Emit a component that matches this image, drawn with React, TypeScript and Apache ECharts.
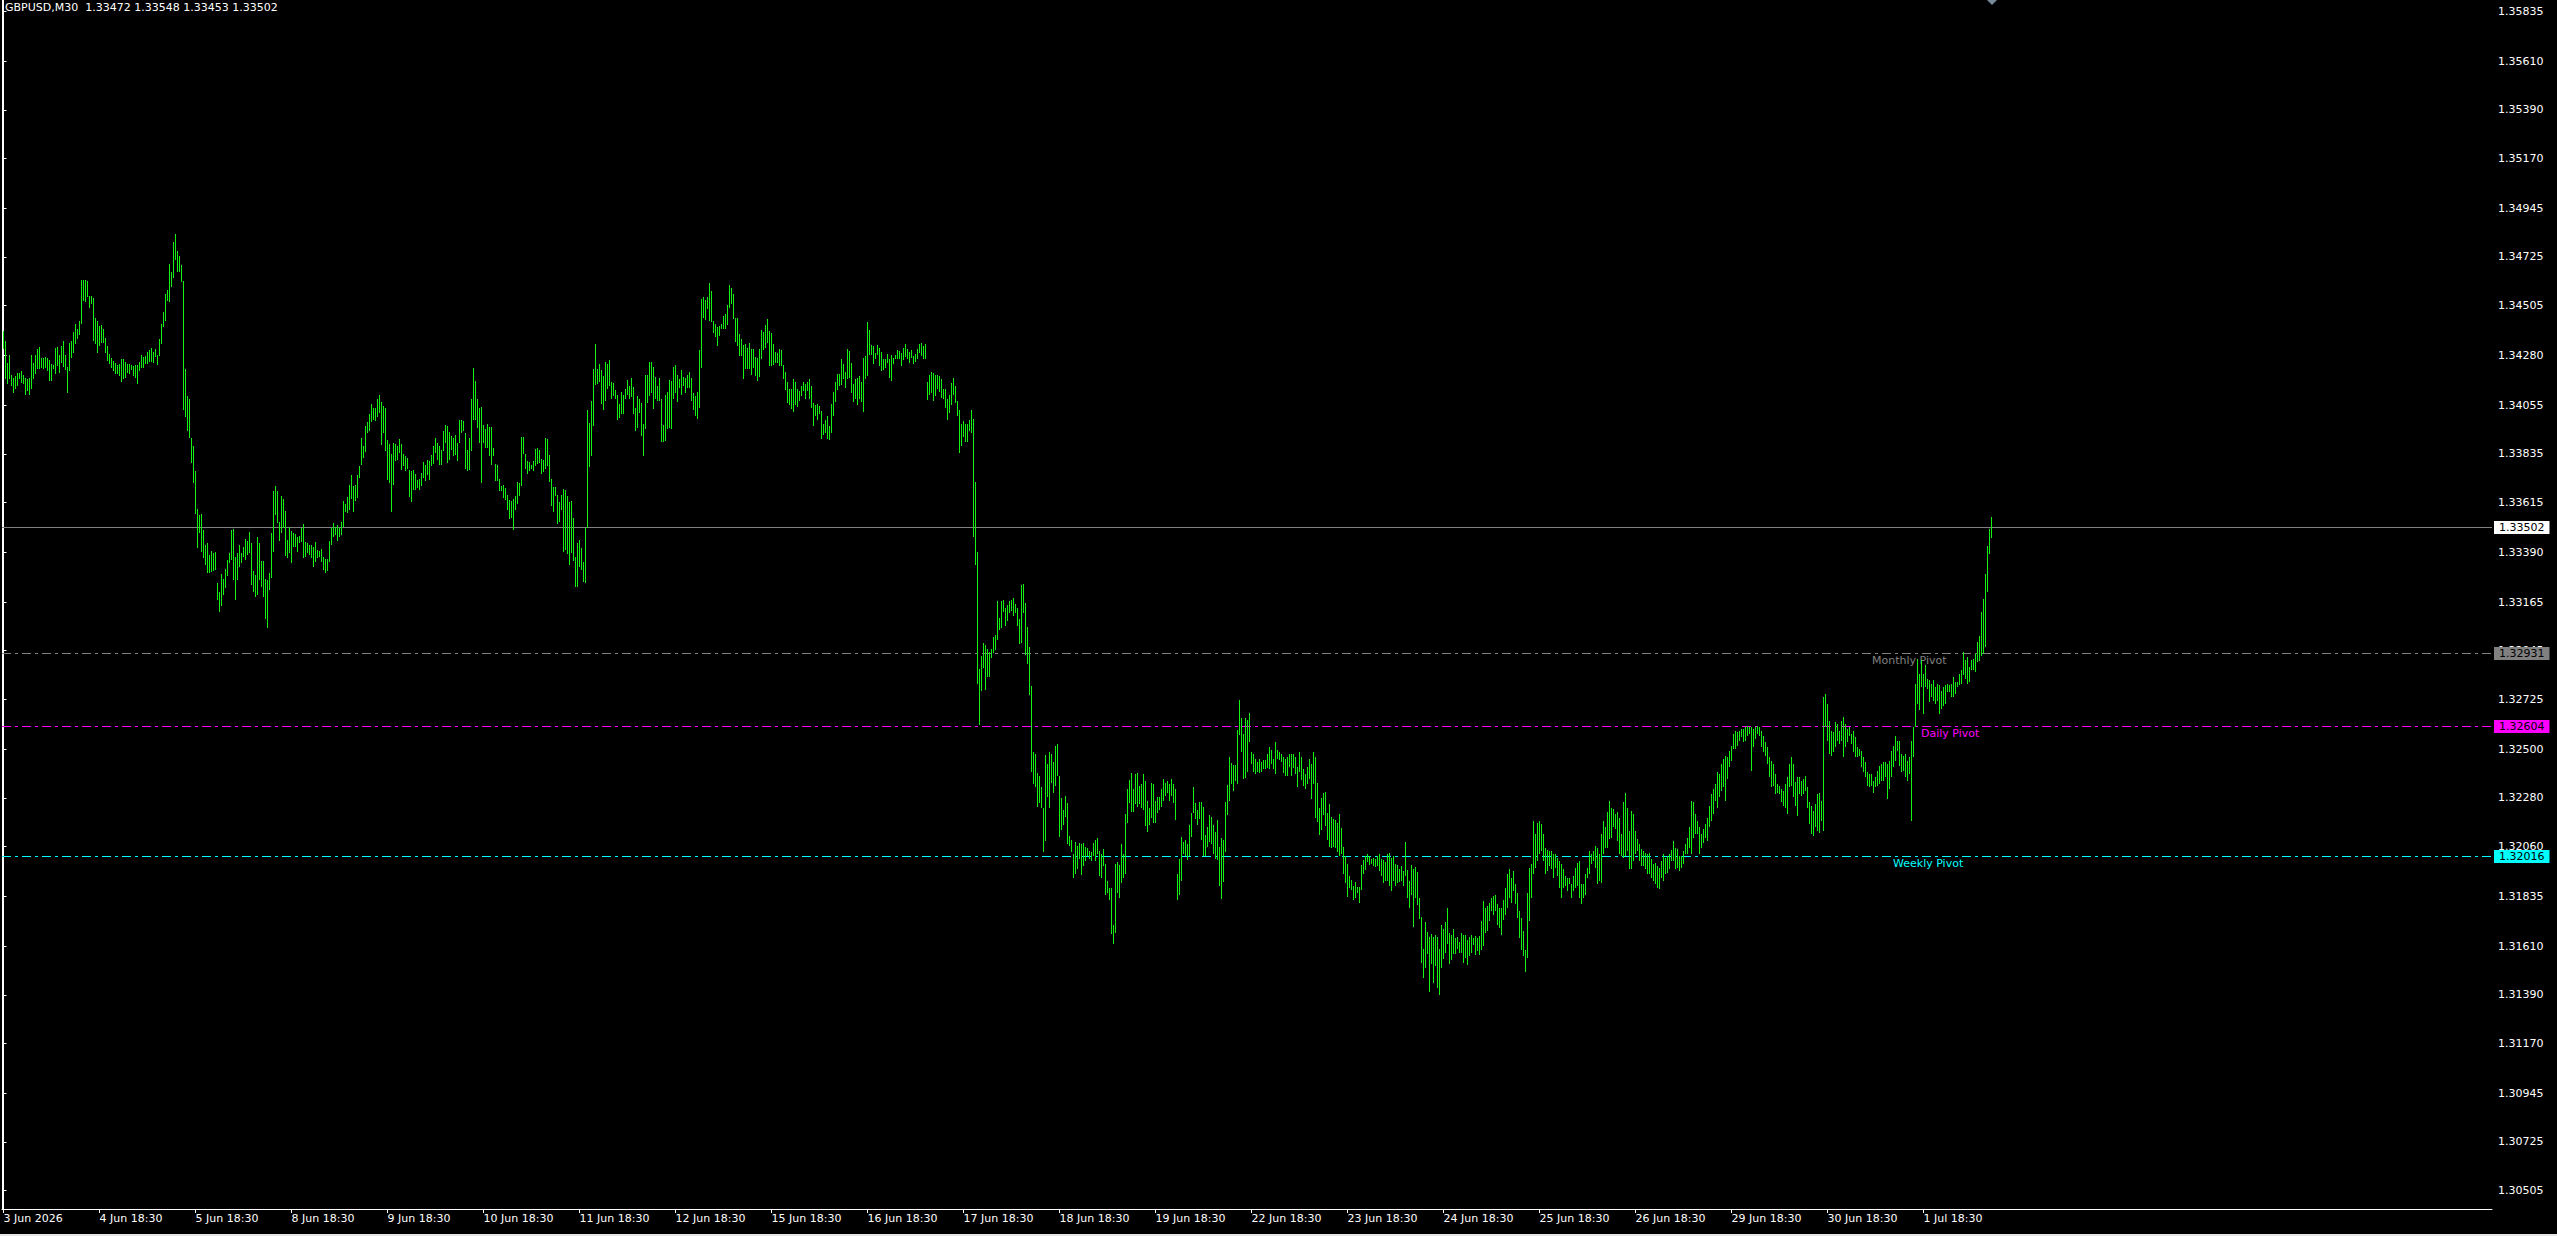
import React, { useEffect, useRef } from "react";
import * as echarts from "echarts";

// ---------- data ----------
const symbolTitle = "GBPUSD,M30";
const lastOHLC = [1.33472, 1.33548, 1.33453, 1.33502];

// M30 bars [high, low], one array per session starting at 18:30
const s03Jun = [[1.34391,1.34308],[1.34345,1.34172],[1.34247,1.34149],[1.34280,1.34172],[1.34190,1.34141],[1.34179,1.34111],[1.34187,1.34126],[1.34202,1.34141],[1.34202,1.34172],[1.34209,1.34156],
[1.34190,1.34149],[1.34178,1.34103],[1.34172,1.34119],[1.34179,1.34103],[1.34280,1.34126],[1.34247,1.34172],[1.34280,1.34194],[1.34308,1.34217],[1.34317,1.34217],[1.34270,1.34224],
[1.34270,1.34217],[1.34271,1.34224],[1.34268,1.34209],[1.34258,1.34164],[1.34240,1.34164],[1.34237,1.34217],[1.34314,1.34194],[1.34318,1.34232],[1.34280,1.34199],[1.34323,1.34247],
[1.34345,1.34227],[1.34283,1.34214],[1.34227,1.34111],[1.34335,1.34209],[1.34345,1.34270],[1.34386,1.34292],[1.34421,1.34333],[1.34398,1.34353],[1.34435,1.34371],[1.34619,1.34423],
[1.34619,1.34527],[1.34621,1.34519],[1.34618,1.34542],[1.34550,1.34495],[1.34547,1.34512],[1.34539,1.34345],[1.34451,1.34330],[1.34435,1.34292]];
const s04Jun = [[1.34413,1.34323],[1.34418,1.34338],[1.34398,1.34335],[1.34359,1.34292],[1.34321,1.34255],[1.34285,1.34240],[1.34268,1.34224],[1.34253,1.34209],[1.34247,1.34194],[1.34237,1.34194],
[1.34241,1.34187],[1.34262,1.34161],[1.34265,1.34172],[1.34252,1.34179],[1.34243,1.34202],[1.34243,1.34194],[1.34237,1.34214],[1.34232,1.34187],[1.34237,1.34179],[1.34237,1.34152],
[1.34250,1.34209],[1.34280,1.34224],[1.34274,1.34224],[1.34277,1.34240],[1.34297,1.34240],[1.34303,1.34250],[1.34312,1.34252],[1.34296,1.34247],[1.34311,1.34274],[1.34280,1.34235],
[1.34356,1.34277],[1.34421,1.34330],[1.34478,1.34410],[1.34557,1.34436],[1.34574,1.34527],[1.34693,1.34522],[1.34657,1.34590],[1.34791,1.34630],[1.34829,1.34713],[1.34751,1.34655],
[1.34731,1.34658],[1.34689,1.34610],[1.34615,1.34035],[1.34217,1.34002],[1.34097,1.33937],[1.34084,1.33907],[1.33907,1.33793],[1.33869,1.33703]];
const s05Jun = [[1.33759,1.33562],[1.33585,1.33408],[1.33559,1.33479],[1.33564,1.33393],[1.33491,1.33363],[1.33423,1.33332],[1.33431,1.33295],[1.33378,1.33295],[1.33396,1.33302],[1.33385,1.33307],
[1.33393,1.33310],[1.33249,1.33174],[1.33211,1.33121],[1.33292,1.33146],[1.33267,1.33196],[1.33313,1.33227],[1.33355,1.33284],[1.33385,1.33340],[1.33491,1.33355],[1.33496,1.33264],
[1.33370,1.33174],[1.33385,1.33264],[1.33422,1.33325],[1.33388,1.33340],[1.33416,1.33370],[1.33450,1.33355],[1.33443,1.33378],[1.33481,1.33385],[1.33434,1.33242],[1.33305,1.33211],
[1.33287,1.33189],[1.33458,1.33196],[1.33434,1.33264],[1.33352,1.33234],[1.33351,1.33189],[1.33269,1.33090],[1.33264,1.33048],[1.33295,1.33219],[1.33479,1.33272],[1.33668,1.33393],
[1.33691,1.33559],[1.33668,1.33521],[1.33526,1.33443],[1.33645,1.33476],[1.33632,1.33499],[1.33576,1.33373],[1.33446,1.33363],[1.33502,1.33385]];
const s08Jun = [[1.33487,1.33343],[1.33476,1.33416],[1.33471,1.33416],[1.33458,1.33393],[1.33464,1.33431],[1.33499,1.33438],[1.33520,1.33366],[1.33438,1.33370],[1.33434,1.33385],[1.33423,1.33378],
[1.33423,1.33363],[1.33412,1.33325],[1.33438,1.33348],[1.33400,1.33363],[1.33396,1.33367],[1.33403,1.33348],[1.33370,1.33310],[1.33358,1.33298],[1.33361,1.33307],[1.33443,1.33348],
[1.33499,1.33423],[1.33524,1.33461],[1.33506,1.33468],[1.33514,1.33443],[1.33499,1.33461],[1.33526,1.33468],[1.33623,1.33506],[1.33609,1.33574],[1.33642,1.33567],[1.33695,1.33582],
[1.33741,1.33630],[1.33688,1.33574],[1.33695,1.33620],[1.33741,1.33635],[1.33778,1.33725],[1.33907,1.33786],[1.33869,1.33816],[1.33963,1.33842],[1.33978,1.33930],[1.34013,1.33937],
[1.34058,1.33978],[1.34043,1.33990],[1.34043,1.33983],[1.34081,1.34002],[1.34103,1.34020],[1.34070,1.33877],[1.34051,1.33930],[1.34043,1.33846]];
const s09Jun = [[1.33896,1.33718],[1.33881,1.33703],[1.33836,1.33574],[1.33884,1.33695],[1.33880,1.33801],[1.33869,1.33809],[1.33904,1.33839],[1.33880,1.33763],[1.33836,1.33778],[1.33824,1.33756],
[1.33815,1.33766],[1.33763,1.33638],[1.33759,1.33615],[1.33760,1.33673],[1.33745,1.33673],[1.33718,1.33680],[1.33721,1.33673],[1.33748,1.33688],[1.33798,1.33725],[1.33786,1.33710],
[1.33809,1.33741],[1.33801,1.33718],[1.33831,1.33778],[1.33872,1.33789],[1.33905,1.33839],[1.33884,1.33809],[1.33869,1.33786],[1.33851,1.33786],[1.33937,1.33846],[1.33967,1.33884],
[1.33960,1.33794],[1.33934,1.33809],[1.33915,1.33854],[1.33907,1.33824],[1.33918,1.33831],[1.33884,1.33801],[1.33990,1.33884],[1.33990,1.33930],[1.33983,1.33937],[1.33930,1.33766],
[1.33854,1.33756],[1.33907,1.33763],[1.34081,1.33846],[1.34224,1.33990],[1.34165,1.33987],[1.34085,1.33952],[1.34043,1.33884],[1.34048,1.33703]];
const s10Jun = [[1.33967,1.33884],[1.33948,1.33862],[1.33972,1.33862],[1.33955,1.33824],[1.33957,1.33783],[1.33862,1.33827],[1.33789,1.33713],[1.33783,1.33710],[1.33721,1.33665],[1.33688,1.33665],
[1.33695,1.33635],[1.33680,1.33627],[1.33650,1.33582],[1.33627,1.33540],[1.33624,1.33544],[1.33630,1.33491],[1.33645,1.33582],[1.33706,1.33609],[1.33703,1.33645],[1.33912,1.33688],
[1.33912,1.33836],[1.33836,1.33766],[1.33804,1.33745],[1.33797,1.33756],[1.33786,1.33766],[1.33804,1.33756],[1.33857,1.33778],[1.33862,1.33790],[1.33851,1.33793],[1.33812,1.33745],
[1.33809,1.33751],[1.33907,1.33766],[1.33902,1.33781],[1.33831,1.33706],[1.33721,1.33600],[1.33685,1.33574],[1.33685,1.33645],[1.33650,1.33518],[1.33615,1.33529],[1.33650,1.33582],
[1.33676,1.33393],[1.33670,1.33400],[1.33645,1.33382],[1.33615,1.33332],[1.33620,1.33385],[1.33547,1.33352],[1.33370,1.33234],[1.33431,1.33234]];
const s11Jun = [[1.33446,1.33325],[1.33408,1.33310],[1.33348,1.33257],[1.33499,1.33252],[1.34035,1.33499],[1.33975,1.33775],[1.34073,1.33827],[1.34217,1.33963],[1.34330,1.34144],[1.34220,1.34149],
[1.34240,1.34159],[1.34212,1.34058],[1.34187,1.34035],[1.34250,1.34073],[1.34240,1.34129],[1.34258,1.34141],[1.34161,1.34081],[1.34156,1.34096],[1.34123,1.34081],[1.34103,1.33990],
[1.34061,1.33998],[1.34114,1.34013],[1.34103,1.34013],[1.34126,1.34081],[1.34167,1.34099],[1.34141,1.34081],[1.34176,1.34093],[1.34135,1.34013],[1.34043,1.33937],[1.34096,1.33952],
[1.34084,1.34020],[1.34063,1.33915],[1.33972,1.33824],[1.34190,1.33945],[1.34190,1.34063],[1.34252,1.34096],[1.34252,1.34111],[1.34229,1.34038],[1.34184,1.34081],[1.34141,1.34073],
[1.34176,1.34073],[1.34084,1.33887],[1.33967,1.33887],[1.34099,1.33892],[1.34114,1.33945],[1.34167,1.33952],[1.34164,1.33945],[1.34227,1.34081]];
const s12Jun = [[1.34235,1.34111],[1.34191,1.34069],[1.34172,1.34134],[1.34212,1.34099],[1.34182,1.34141],[1.34176,1.34111],[1.34191,1.34134],[1.34206,1.34134],[1.34179,1.34073],[1.34108,1.34032],
[1.34096,1.34008],[1.34114,1.33993],[1.34303,1.34043],[1.34534,1.34224],[1.34542,1.34447],[1.34531,1.34441],[1.34542,1.34489],[1.34605,1.34436],[1.34572,1.34429],[1.34436,1.34383],
[1.34421,1.34361],[1.34406,1.34323],[1.34413,1.34368],[1.34421,1.34398],[1.34459,1.34398],[1.34466,1.34398],[1.34507,1.34416],[1.34598,1.34492],[1.34583,1.34512],[1.34557,1.34444],
[1.34451,1.34341],[1.34447,1.34323],[1.34376,1.34277],[1.34356,1.34277],[1.34327,1.34175],[1.34330,1.34217],[1.34315,1.34217],[1.34335,1.34217],[1.34311,1.34190],[1.34308,1.34224],
[1.34274,1.34187],[1.34270,1.34164],[1.34311,1.34184],[1.34395,1.34262],[1.34386,1.34305],[1.34416,1.34315],[1.34444,1.34338],[1.34391,1.34232]];
const s15Jun = [[1.34380,1.34232],[1.34330,1.34235],[1.34296,1.34247],[1.34292,1.34247],[1.34308,1.34232],[1.34305,1.34232],[1.34235,1.34172],[1.34205,1.34123],[1.34159,1.34066],[1.34126,1.34054],
[1.34129,1.34038],[1.34172,1.34023],[1.34159,1.34054],[1.34129,1.34048],[1.34119,1.34073],[1.34141,1.34096],[1.34159,1.34119],[1.34152,1.34084],[1.34159,1.34119],[1.34175,1.34084],
[1.34141,1.34043],[1.34063,1.33963],[1.34054,1.34005],[1.34058,1.33990],[1.34051,1.34013],[1.34028,1.33902],[1.33972,1.33918],[1.33990,1.33930],[1.34008,1.33902],[1.33960,1.33896],
[1.34058,1.33930],[1.34114,1.34008],[1.34159,1.34069],[1.34194,1.34123],[1.34194,1.34141],[1.34265,1.34144],[1.34240,1.34175],[1.34205,1.34134],[1.34311,1.34172],[1.34300,1.34179],
[1.34244,1.34108],[1.34149,1.34069],[1.34175,1.34084],[1.34179,1.34054],[1.34187,1.34084],[1.34159,1.34069],[1.34270,1.34023],[1.34277,1.34175]];
const s16Jun = [[1.34429,1.34187],[1.34395,1.34280],[1.34326,1.34280],[1.34323,1.34240],[1.34289,1.34262],[1.34326,1.34280],[1.34315,1.34232],[1.34296,1.34209],[1.34262,1.34214],[1.34265,1.34224],
[1.34285,1.34244],[1.34262,1.34179],[1.34280,1.34164],[1.34270,1.34240],[1.34280,1.34262],[1.34305,1.34262],[1.34300,1.34262],[1.34289,1.34232],[1.34315,1.34259],[1.34330,1.34274],
[1.34311,1.34262],[1.34296,1.34244],[1.34305,1.34270],[1.34277,1.34240],[1.34285,1.34250],[1.34311,1.34265],[1.34330,1.34289],[1.34335,1.34277],[1.34323,1.34265],[1.34330,1.34262],
[1.34159,1.34078],[1.34190,1.34103],[1.34205,1.34108],[1.34202,1.34073],[1.34190,1.34096],[1.34190,1.34126],[1.34187,1.34114],[1.34175,1.34088],[1.34126,1.34084],[1.34129,1.34043],
[1.34084,1.33987],[1.34103,1.34020],[1.34156,1.34054],[1.34179,1.34103],[1.34141,1.34063],[1.34073,1.34008],[1.34035,1.33839],[1.33972,1.33869]];
const s17Jun = [[1.33983,1.33911],[1.33972,1.33887],[1.33972,1.33887],[1.33987,1.33937],[1.34032,1.33930],[1.33993,1.33458],[1.33706,1.33332],[1.33393,1.32795],[1.32861,1.32608],[1.32920,1.32762],
[1.32982,1.32867],[1.32971,1.32766],[1.32955,1.32828],[1.32938,1.32828],[1.32955,1.32911],[1.33008,1.32933],[1.33015,1.32949],[1.33168,1.32993],[1.33092,1.33037],[1.33168,1.33048],
[1.33175,1.33118],[1.33136,1.33059],[1.33153,1.33081],[1.33168,1.33114],[1.33175,1.33125],[1.33184,1.33103],[1.33157,1.33114],[1.33140,1.33059],[1.33087,1.32977],[1.33241,1.32982],
[1.33245,1.33114],[1.33162,1.32927],[1.33052,1.32883],[1.32960,1.32744],[1.32784,1.32399],[1.32487,1.32344],[1.32476,1.32327],[1.32393,1.32239],[1.32377,1.32257],[1.32327,1.32234],
[1.32234,1.32036],[1.32472,1.32085],[1.32432,1.32283],[1.32487,1.32234],[1.32476,1.32349],[1.32443,1.32300],[1.32516,1.32333],[1.32524,1.32377]];
const s18Jun = [[1.32377,1.32102],[1.32278,1.32135],[1.32223,1.32157],[1.32289,1.32195],[1.32256,1.32070],[1.32107,1.32063],[1.32091,1.32036],[1.32026,1.31916],[1.32080,1.31938],[1.32063,1.31960],
[1.32076,1.32004],[1.32070,1.31931],[1.32076,1.31971],[1.32058,1.31993],[1.32054,1.32019],[1.32041,1.32004],[1.32037,1.31993],[1.32076,1.32015],[1.32091,1.31993],[1.32098,1.32026],
[1.32041,1.31927],[1.32026,1.31916],[1.32048,1.31971],[1.31982,1.31839],[1.31905,1.31850],[1.31872,1.31817],[1.31872,1.31663],[1.31707,1.31619],[1.31982,1.31667],[1.31988,1.31850],
[1.31975,1.31828],[1.32070,1.31894],[1.32026,1.31916],[1.32208,1.31938],[1.32322,1.32168],[1.32362,1.32256],[1.32393,1.32217],[1.32322,1.32217],[1.32388,1.32252],[1.32393,1.32239],
[1.32333,1.32252],[1.32344,1.32234],[1.32388,1.32223],[1.32355,1.32151],[1.32267,1.32124],[1.32234,1.32157],[1.32349,1.32190],[1.32344,1.32168]];
const s19Jun = [[1.32267,1.32168],[1.32283,1.32212],[1.32283,1.32223],[1.32322,1.32239],[1.32366,1.32267],[1.32349,1.32289],[1.32355,1.32300],[1.32344,1.32267],[1.32366,1.32289],[1.32344,1.32256],
[1.32318,1.32179],[1.31938,1.31817],[1.32004,1.31839],[1.32102,1.31905],[1.32080,1.32026],[1.32091,1.32015],[1.32070,1.31997],[1.32157,1.32015],[1.32212,1.32102],[1.32327,1.32212],
[1.32256,1.32186],[1.32223,1.32157],[1.32261,1.32186],[1.32261,1.32091],[1.32239,1.32015],[1.32113,1.32019],[1.32146,1.32058],[1.32201,1.32080],[1.32195,1.32070],[1.32157,1.32026],
[1.32124,1.32004],[1.32179,1.31997],[1.32058,1.31883],[1.32098,1.31821],[1.32091,1.31900],[1.32261,1.32036],[1.32340,1.32201],[1.32465,1.32267],[1.32437,1.32344],[1.32428,1.32311],
[1.32428,1.32355],[1.32586,1.32344],[1.32722,1.32564],[1.32641,1.32487],[1.32568,1.32366],[1.32641,1.32371],[1.32634,1.32399],[1.32663,1.32531]];
const s22Jun = [[1.32487,1.32432],[1.32476,1.32399],[1.32454,1.32388],[1.32443,1.32399],[1.32454,1.32393],[1.32443,1.32399],[1.32450,1.32410],[1.32450,1.32410],[1.32480,1.32415],[1.32509,1.32410],
[1.32498,1.32432],[1.32454,1.32410],[1.32531,1.32388],[1.32498,1.32454],[1.32487,1.32450],[1.32476,1.32443],[1.32465,1.32393],[1.32454,1.32377],[1.32465,1.32377],[1.32476,1.32421],
[1.32480,1.32377],[1.32476,1.32415],[1.32465,1.32388],[1.32421,1.32327],[1.32487,1.32399],[1.32465,1.32362],[1.32410,1.32333],[1.32388,1.32322],[1.32421,1.32344],[1.32454,1.32366],
[1.32432,1.32274],[1.32487,1.32344],[1.32465,1.32190],[1.32349,1.32173],[1.32234,1.32113],[1.32278,1.32135],[1.32300,1.32201],[1.32305,1.32151],[1.32212,1.32091],[1.32252,1.32058],
[1.32195,1.32054],[1.32186,1.32058],[1.32179,1.32054],[1.32168,1.32037],[1.32208,1.32015],[1.32142,1.32026],[1.32058,1.31938],[1.32015,1.31894]];
const s23Jun = [[1.31982,1.31834],[1.31927,1.31872],[1.31909,1.31865],[1.31883,1.31817],[1.31900,1.31828],[1.31878,1.31850],[1.31878,1.31806],[1.31975,1.31865],[1.31997,1.31938],[1.32015,1.31953],
[1.32026,1.31988],[1.32015,1.31975],[1.32004,1.31982],[1.32010,1.31971],[1.32004,1.31966],[1.32019,1.31971],[1.32026,1.31949],[1.32004,1.31927],[1.31997,1.31894],[1.31988,1.31905],
[1.32026,1.31905],[1.32032,1.31883],[1.32010,1.31861],[1.32015,1.31905],[1.31982,1.31883],[1.31975,1.31894],[1.31960,1.31900],[1.31971,1.31905],[1.31949,1.31883],[1.32080,1.31927],
[1.31953,1.31828],[1.31905,1.31784],[1.31975,1.31839],[1.31960,1.31696],[1.31966,1.31828],[1.31944,1.31795],[1.31828,1.31733],[1.31740,1.31535],[1.31597,1.31465],[1.31718,1.31509],
[1.31674,1.31575],[1.31652,1.31404],[1.31663,1.31531],[1.31652,1.31443],[1.31658,1.31520],[1.31652,1.31421],[1.31597,1.31388],[1.31707,1.31509]];
const s24Jun = [[1.31685,1.31553],[1.31718,1.31579],[1.31784,1.31619],[1.31667,1.31531],[1.31658,1.31548],[1.31685,1.31575],[1.31645,1.31575],[1.31652,1.31597],[1.31630,1.31579],[1.31669,1.31579],
[1.31659,1.31533],[1.31662,1.31556],[1.31639,1.31526],[1.31650,1.31563],[1.31659,1.31579],[1.31647,1.31616],[1.31654,1.31571],[1.31647,1.31586],[1.31654,1.31571],[1.31722,1.31594],
[1.31813,1.31609],[1.31783,1.31669],[1.31790,1.31677],[1.31805,1.31722],[1.31828,1.31768],[1.31836,1.31752],[1.31840,1.31768],[1.31798,1.31707],[1.31783,1.31692],[1.31783,1.31662],
[1.31820,1.31730],[1.31873,1.31752],[1.31934,1.31783],[1.31957,1.31828],[1.31919,1.31805],[1.31949,1.31858],[1.31889,1.31798],[1.31851,1.31737],[1.31768,1.31647],[1.31737,1.31594],
[1.31677,1.31563],[1.31594,1.31495],[1.31851,1.31556],[1.31964,1.31722],[1.31979,1.31828],[1.32176,1.31934],[1.32115,1.31964],[1.32168,1.31994]];
const s25Jun = [[1.32176,1.32025],[1.32161,1.32040],[1.32115,1.31994],[1.32055,1.31934],[1.32043,1.31949],[1.32040,1.31972],[1.32040,1.31957],[1.32025,1.31919],[1.32025,1.31964],[1.32010,1.31926],
[1.31994,1.31873],[1.31979,1.31828],[1.31957,1.31873],[1.31926,1.31881],[1.31919,1.31858],[1.31919,1.31889],[1.31889,1.31828],[1.31926,1.31858],[1.31964,1.31873],[1.31987,1.31881],
[1.31994,1.31828],[1.31889,1.31798],[1.31889,1.31828],[1.31934,1.31843],[1.31964,1.31919],[1.32040,1.31934],[1.32025,1.31979],[1.32040,1.31994],[1.32062,1.31964],[1.32055,1.31889],
[1.32025,1.31904],[1.32115,1.31896],[1.32176,1.32025],[1.32146,1.32055],[1.32214,1.32055],[1.32267,1.32093],[1.32236,1.32100],[1.32229,1.32146],[1.32206,1.32138],[1.32214,1.32085],
[1.32191,1.32025],[1.32115,1.32017],[1.32259,1.32010],[1.32304,1.32017],[1.32236,1.32040],[1.32130,1.31957],[1.32221,1.31957],[1.32206,1.31994]];
const s26Jun = [[1.32130,1.32025],[1.32093,1.32040],[1.32070,1.31994],[1.32047,1.31972],[1.32040,1.31972],[1.32032,1.31957],[1.32025,1.31934],[1.32032,1.31934],[1.32002,1.31919],[1.31979,1.31904],
[1.31987,1.31889],[1.31972,1.31873],[1.31964,1.31866],[1.31994,1.31919],[1.32025,1.31904],[1.32010,1.31934],[1.32017,1.31941],[1.32025,1.31957],[1.32043,1.31994],[1.32085,1.31994],
[1.32055,1.31957],[1.32047,1.31964],[1.32017,1.31949],[1.32017,1.31964],[1.32040,1.31979],[1.32070,1.32025],[1.32100,1.32025],[1.32146,1.32055],[1.32267,1.32025],[1.32259,1.32100],
[1.32206,1.32115],[1.32176,1.32115],[1.32146,1.32025],[1.32115,1.32055],[1.32138,1.32078],[1.32161,1.32100],[1.32191,1.32085],[1.32244,1.32146],[1.32297,1.32176],[1.32319,1.32206],
[1.32342,1.32267],[1.32395,1.32236],[1.32390,1.32282],[1.32433,1.32312],[1.32456,1.32327],[1.32471,1.32267],[1.32463,1.32365],[1.32493,1.32418]];
const s29Jun = [[1.32516,1.32448],[1.32569,1.32501],[1.32584,1.32501],[1.32576,1.32516],[1.32584,1.32539],[1.32592,1.32554],[1.32592,1.32531],[1.32599,1.32539],[1.32607,1.32561],[1.32599,1.32569],
[1.32599,1.32403],[1.32592,1.32508],[1.32602,1.32546],[1.32607,1.32569],[1.32602,1.32561],[1.32584,1.32508],[1.32561,1.32486],[1.32531,1.32471],[1.32508,1.32433],[1.32463,1.32372],
[1.32448,1.32327],[1.32433,1.32335],[1.32387,1.32297],[1.32342,1.32304],[1.32335,1.32297],[1.32319,1.32259],[1.32312,1.32244],[1.32342,1.32236],[1.32372,1.32206],[1.32433,1.32327],
[1.32463,1.32335],[1.32433,1.32282],[1.32350,1.32244],[1.32372,1.32198],[1.32372,1.32297],[1.32357,1.32289],[1.32365,1.32297],[1.32380,1.32312],[1.32327,1.32236],[1.32259,1.32161],
[1.32244,1.32115],[1.32221,1.32108],[1.32251,1.32146],[1.32297,1.32130],[1.32304,1.32123],[1.32267,1.32176],[1.32735,1.32130],[1.32750,1.32599]];
const s30Jun = [[1.32705,1.32539],[1.32629,1.32478],[1.32584,1.32471],[1.32576,1.32486],[1.32622,1.32508],[1.32614,1.32539],[1.32584,1.32524],[1.32629,1.32539],[1.32644,1.32463],[1.32614,1.32508],
[1.32592,1.32531],[1.32599,1.32561],[1.32569,1.32524],[1.32584,1.32486],[1.32554,1.32463],[1.32508,1.32463],[1.32501,1.32471],[1.32493,1.32418],[1.32463,1.32395],[1.32440,1.32372],
[1.32395,1.32335],[1.32390,1.32327],[1.32387,1.32335],[1.32357,1.32304],[1.32372,1.32327],[1.32403,1.32335],[1.32425,1.32342],[1.32433,1.32357],[1.32440,1.32357],[1.32440,1.32372],
[1.32433,1.32274],[1.32448,1.32319],[1.32493,1.32372],[1.32516,1.32418],[1.32561,1.32448],[1.32539,1.32493],[1.32539,1.32425],[1.32478,1.32395],[1.32471,1.32403],[1.32478,1.32372],
[1.32448,1.32357],[1.32463,1.32387],[1.32539,1.32176],[1.32599,1.32463],[1.32796,1.32599],[1.32909,1.32705],[1.32841,1.32675],[1.32902,1.32781]];
const s01Jul = [[1.32841,1.32660],[1.32879,1.32781],[1.32818,1.32773],[1.32811,1.32713],[1.32796,1.32735],[1.32811,1.32720],[1.32781,1.32705],[1.32796,1.32720],[1.32788,1.32660],[1.32765,1.32682],
[1.32781,1.32697],[1.32788,1.32705],[1.32796,1.32758],[1.32788,1.32758],[1.32793,1.32735],[1.32826,1.32735],[1.32803,1.32750],[1.32803,1.32781],[1.32841,1.32788],[1.32856,1.32796],
[1.32939,1.32834],[1.32902,1.32818],[1.32917,1.32796],[1.32871,1.32803],[1.32902,1.32856],[1.32909,1.32856],[1.32932,1.32849],[1.32985,1.32894],[1.33010,1.32900],[1.33120,1.32920],
[1.33180,1.32930],[1.33290,1.32964],[1.33420,1.33210],[1.33495,1.33380],[1.33548,1.33453]];

const sessions = [s03Jun, s04Jun, s05Jun, s08Jun, s09Jun, s10Jun, s11Jun, s12Jun, s15Jun, s16Jun, s17Jun,
  s18Jun, s19Jun, s22Jun, s23Jun, s24Jun, s25Jun, s26Jun, s29Jun, s30Jun, s01Jul];

const dateLabels = ["3 Jun 2026", "4 Jun 18:30", "5 Jun 18:30", "8 Jun 18:30", "9 Jun 18:30", "10 Jun 18:30",
  "11 Jun 18:30", "12 Jun 18:30", "15 Jun 18:30", "16 Jun 18:30", "17 Jun 18:30", "18 Jun 18:30",
  "19 Jun 18:30", "22 Jun 18:30", "23 Jun 18:30", "24 Jun 18:30", "25 Jun 18:30", "26 Jun 18:30",
  "29 Jun 18:30", "30 Jun 18:30", "1 Jul 18:30"];
const barsPerSession = 48;

const priceTicks = [1.35835, 1.35610, 1.35390, 1.35170, 1.34945, 1.34725, 1.34505, 1.34280, 1.34055,
  1.33835, 1.33615, 1.33390, 1.33165, 1.32945, 1.32725, 1.32500, 1.32280, 1.32060, 1.31835, 1.31610,
  1.31390, 1.31170, 1.30945, 1.30725, 1.30505];

// level 0 = bid line, 1..3 = pivots
const levelNames = ["", "Monthly Pivot", "Daily Pivot", "Weekly Pivot"];
const levelValues = [1.33502, 1.32931, 1.32604, 1.32016];
const levelLabelBars = [0, 934.3, 958.8, 944.6];

// ---------- styles ----------
const FONT = "'DejaVu Sans', Verdana, sans-serif";
const BAR_COLOR = "#14f014";
const levelLineColors = ["#808080", "#808080", "#ff00ff", "#00ffff"];
const levelBoxColors = ["#ffffff", "#808080", "#ff00ff", "#00ffff"];
const DASH_DOT = [9, 4, 3, 4];

const allBars = sessions.flat();
const barData = allBars.map((b, i) => [i, b[0], b[1]]);
const xTickBars = dateLabels.map((_, k) => k * barsPerSession);
const levelData = levelValues.map((v, k) => [levelLabelBars[k], v, k]);

function buildOption() {
  return {
    animation: false,
    backgroundColor: "#000000",
    textStyle: { fontFamily: FONT },
    grid: { left: 2, top: 0, width: 2490, height: 1209, containLabel: false },
    xAxis: {
      type: "value",
      min: -0.75,
      max: 1244.25,
      splitLine: { show: false },
      axisLine: { show: true, lineStyle: { color: "#ffffff", width: 1 } },
      axisTick: { show: true, customValues: xTickBars, length: 4, lineStyle: { color: "#ffffff" } },
      axisLabel: {
        show: true,
        customValues: xTickBars,
        formatter: (v: number) => dateLabels[Math.round(v / barsPerSession)] || "",
        color: "#ffffff",
        fontSize: 11,
        fontFamily: FONT,
        align: "left",
        margin: 4,
        hideOverlap: false,
      },
    },
    yAxis: {
      type: "value",
      position: "right",
      min: 1.304216,
      max: 1.358863,
      scale: true,
      splitLine: { show: false },
      axisLine: { show: true, lineStyle: { color: "#ffffff", width: 1 } },
      axisTick: { show: true, customValues: priceTicks, length: 3, lineStyle: { color: "#ffffff" } },
      axisLabel: {
        show: true,
        customValues: priceTicks,
        formatter: (v: number) => v.toFixed(5),
        color: "#ffffff",
        fontSize: 11,
        fontFamily: FONT,
        margin: 6,
      },
    },
    series: [
      {
        type: "custom",
        name: "levels",
        data: levelData,
        encode: { x: 0, y: 1 },
        silent: true,
        clip: false,
        z: 2,
        renderItem: (params: any, api: any) => {
          const bar = api.value(0);
          const v = api.value(1);
          const k = api.value(2);
          const cs = params.coordSys;
          const p = api.coord([bar, v]);
          const y = Math.round(p[1] - 0.5) + 0.5;
          const children: any[] = [
            {
              type: "line",
              shape: { x1: cs.x, y1: y, x2: cs.x + cs.width, y2: y },
              style: { stroke: levelLineColors[k], lineWidth: 1, lineDash: k === 0 ? null : DASH_DOT },
            },
            {
              type: "text",
              z2: 10,
              style: {
                text: v.toFixed(5),
                x: cs.x + cs.width + 2,
                y: y,
                align: "left",
                verticalAlign: "middle",
                fill: "#000000",
                backgroundColor: levelBoxColors[k],
                padding: [1, 5, 0, 5],
                lineHeight: 12,
                fontSize: 11,
                fontFamily: FONT,
              },
            },
          ];
          if (k > 0) {
            children.push({
              type: "text",
              style: {
                text: levelNames[k],
                x: Math.round(p[0]),
                y: y + 1,
                align: "left",
                verticalAlign: "top",
                fill: levelLineColors[k],
                fontSize: 11,
                fontFamily: FONT,
              },
            });
          }
          return { type: "group", children };
        },
      },
      {
        type: "custom",
        name: "GBPUSD",
        data: barData,
        encode: { x: 0, y: [1, 2] },
        silent: true,
        z: 3,
        renderItem: (params: any, api: any) => {
          const i = api.value(0);
          const pHi = api.coord([i, api.value(1)]);
          const pLo = api.coord([i, api.value(2)]);
          const x = Math.round(pHi[0] - 0.5) + 0.5;
          const y1 = Math.round(pHi[1]);
          let y2 = Math.round(pLo[1]);
          if (y2 - y1 < 1) y2 = y1 + 1;
          return {
            type: "line",
            shape: { x1: x, y1: y1, x2: x, y2: y2 },
            style: { stroke: BAR_COLOR, lineWidth: 1 },
          };
        },
      },
    ],
    graphic: [
      {
        type: "line",
        silent: true,
        shape: { x1: 2.5, y1: 0, x2: 2.5, y2: 1209 },
        style: { stroke: "#ffffff", lineWidth: 1 },
      },
      {
        type: "text",
        silent: true,
        left: 5,
        top: 2,
        style: {
          text: symbolTitle + "  " + lastOHLC.map((v) => v.toFixed(5)).join(" "),
          fill: "#ffffff",
          fontSize: 11,
          fontFamily: FONT,
        },
      },
      {
        type: "polygon",
        silent: true,
        shape: { points: [[1987, 0], [1997, 0], [1992, 5]] },
        style: { fill: "#778899" },
      },
      {
        type: "rect",
        silent: true,
        shape: { x: 0, y: 1234, width: 2557, height: 2 },
        style: { fill: "#e6e6e6" },
      },
    ],
  };
}

export default function App() {
  const ref = useRef<HTMLDivElement>(null);
  useEffect(() => {
    document.body.style.margin = "0";
    document.body.style.background = "#000000";
    const chart = echarts.init(ref.current as HTMLDivElement, null, { renderer: "svg" });
    chart.setOption(buildOption() as any);
    return () => {
      chart.dispose();
    };
  }, []);
  return <div ref={ref} style={{ width: 2557, height: 1236, background: "#000000" }} />;
}
